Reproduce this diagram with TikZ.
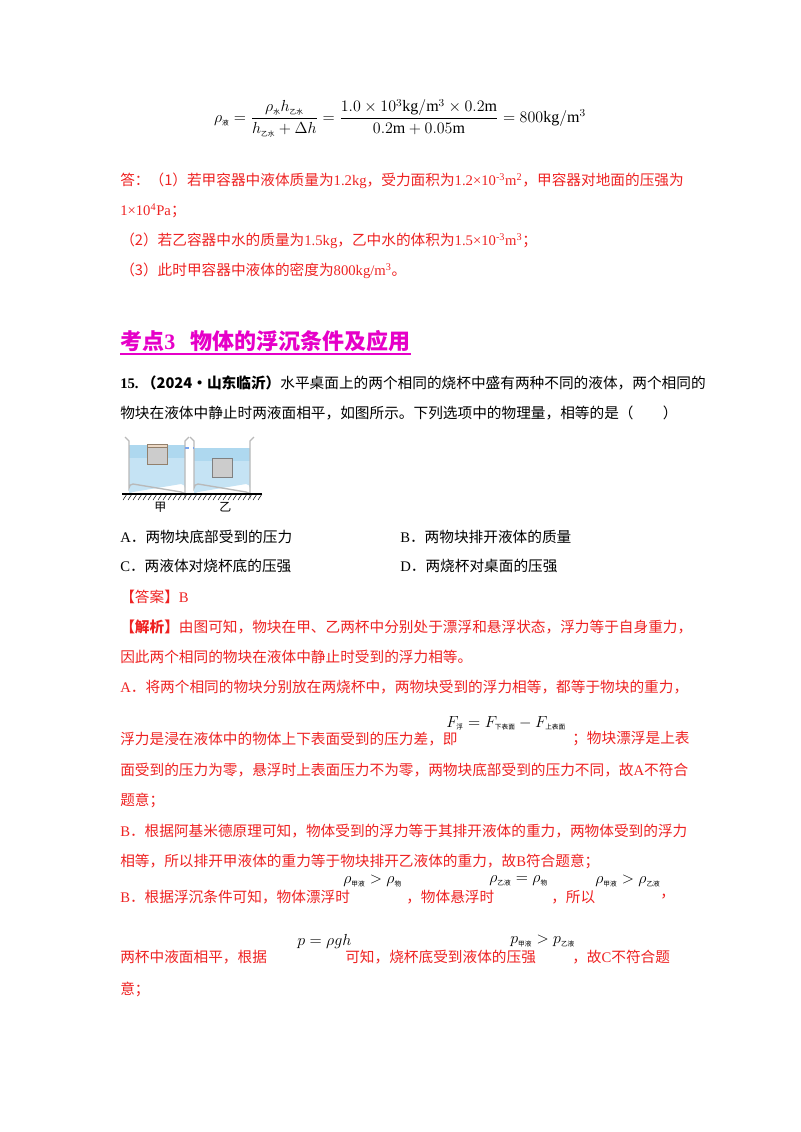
\documentclass[tikz,border=0pt]{standalone}
\usepackage{amsmath}
\usepackage{fontspec}
\setmainfont{Noto Sans CJK SC}
\newfontfamily\tms{Liberation Serif}
\setmathrm{Liberation Serif}
\definecolor{ansred}{RGB}{238,34,34}
\definecolor{headmag}{RGB}{230,0,200}
\definecolor{water}{RGB}{150,205,235}
\newcommand{\zs}[1]{\text{\tiny #1}}
\begin{document}
\begin{tikzpicture}[x=0.75pt,y=-0.75pt,
  txt/.style={anchor=west,inner sep=0pt,font=\fontsize{11}{13}\selectfont},
  red/.style={txt,text=ansred},
  blk/.style={txt,text=black},
  mth/.style={blk,font=\fontsize{11.5}{13}\selectfont}]
\useasboundingbox (0,0) rectangle (800,1132);
\node[blk,anchor=center,font=\fontsize{12}{14}\selectfont] (f1) at (400,118) {$\rho_{\zs{液}}=\dfrac{\rho_{\zs{水}}h_{\zs{乙水}}}{h_{\zs{乙水}}+\Delta h}=\dfrac{1.0\times10^{3}\mathrm{kg}/\mathrm{m}^{3}\times0.2\mathrm{m}}{0.2\mathrm{m}+0.05\mathrm{m}}=800\mathrm{kg}/\mathrm{m}^{3}$};
\node[red] (a1) at (120,181) {答：（1）若甲容器中液体质量为{\tms 1.2kg}，受力面积为{\tms 1.2×10\textsuperscript{-3}m\textsuperscript{2}}，甲容器对地面的压强为};
\node[red] (a2) at (120,211) {{\tms 1×10\textsuperscript{4}Pa}；};
\node[red] (a3) at (120,241) {（2）若乙容器中水的质量为{\tms 1.5kg}，乙中水的体积为{\tms 1.5×10\textsuperscript{-3}m\textsuperscript{3}}；};
\node[red] (a4) at (120,271) {（3）此时甲容器中液体的密度为{\tms 800kg/m\textsuperscript{3}}。};
\node[txt,text=headmag,font=\fontsize{16.5}{18}\bfseries\selectfont] (h) at (120,341) {考点{\tms\bfseries 3}\ \ \ 物体的浮沉条件及应用};
\draw[headmag,line width=1.2pt] (120,354) -- (h.east|-0,354);
\node[blk] (q1) at (120,383) {{\bfseries{\tms 15.}\ （2024·山东临沂）}水平桌面上的两个相同的烧杯中盛有两种不同的液体，两个相同的};
\node[blk] (q2) at (120,413) {物块在液体中静止时两液面相平，如图所示。下列选项中的物理量，相等的是（\qquad）};
% figure
\fill[water!55] (129,445) -- (185,445) -- (185,488) arc(0:-90:4) -- (133,492) arc(270:180:4) -- cycle;
\fill[water!55] (194,448) -- (250,448) -- (250,488) arc(0:-90:4) -- (198,492) arc(270:180:4) -- cycle;
\fill[water!90,opacity=.6] (129,445) rectangle (185,458);
\fill[water!90,opacity=.6] (194,448) rectangle (250,461);
\draw[gray!55,line width=1pt] (125,437) -- (129,441) -- (129,488) arc(180:270:4) -- (181,492) arc(270:360:4) -- (185,441) -- (189,437);
\draw[gray!55,line width=1pt] (190,437) -- (194,441) -- (194,488) arc(180:270:4) -- (246,492) arc(270:360:4) -- (250,441) -- (254,437);
\draw[fill=gray!40,draw=gray!70!brown] (147,444) rectangle (167,464);
\draw[fill=brown!30,draw=gray!70!brown] (147,444) rectangle (167,447);
\draw[fill=gray!40,draw=gray] (212,458) rectangle (232,477);
\draw[dashed,water!80!blue,thick] (185,448) -- (194,448);
\draw[black,thick] (122,494) -- (262,494);
\foreach \i in {0,...,27} \draw (123+\i*5,500) -- (127+\i*5,494);
\node[blk,font=\fontsize{9}{10}\selectfont] (jia) at (154,507) {甲};
\node[blk,font=\fontsize{9}{10}\selectfont] (yi) at (219,507) {乙};
\node[blk] (oA) at (120,537) {{\tms A}．两物块底部受到的压力};
\node[blk] (oB) at (400,537) {{\tms B}．两物块排开液体的质量};
\node[blk] (oC) at (120,566) {{\tms C}．两液体对烧杯底的压强};
\node[blk] (oD) at (400,566) {{\tms D}．两烧杯对桌面的压强};
\node[red] (ans) at (120,597) {【答案】{\tms B}};
\node[red] (j1) at (120,627) {{\bfseries【解析】}由图可知，物块在甲、乙两杯中分别处于漂浮和悬浮状态，浮力等于自身重力，};
\node[red] (j2) at (120,657) {因此两个相同的物块在液体中静止时受到的浮力相等。};
\node[red] (j3) at (120,687) {{\tms A}．将两个相同的物块分别放在两烧杯中，两物块受到的浮力相等，都等于物块的重力，};
\node[red] (j4) at (120,739) {浮力是浸在液体中的物体上下表面受到的压力差，即};
\node[mth] (m1) at (446,723) {$F_{\zs{浮}}=F_{\zs{下表面}}-F_{\zs{上表面}}$};
\node[red] (j4b) at (572,739) {；物块漂浮是上表};
\node[red] (j5) at (120,770) {面受到的压力为零，悬浮时上表面压力不为零，两物块底部受到的压力不同，故{\tms A}不符合};
\node[red] (j6) at (120,800) {题意；};
\node[red] (j7) at (120,831) {{\tms B}．根据阿基米德原理可知，物体受到的浮力等于其排开液体的重力，两物体受到的浮力};
\node[red] (j8) at (120,861) {相等，所以排开甲液体的重力等于物块排开乙液体的重力，故{\tms B}符合题意；};
\node[red] (j9) at (120,897) {{\tms B}．根据浮沉条件可知，物体漂浮时};
\node[mth] (m2) at (343,881) {$\rho_{\zs{甲液}}>\rho_{\zs{物}}$};
\node[red] (j9b) at (406,897) {，物体悬浮时};
\node[mth] (m3) at (489,881) {$\rho_{\zs{乙液}}=\rho_{\zs{物}}$};
\node[red] (j9c) at (551,897) {，所以};
\node[mth] (m4) at (595,881) {$\rho_{\zs{甲液}}>\rho_{\zs{乙液}}$};
\node[red] (j9d) at (660,897) {，};
\node[red] (j10) at (120,957) {两杯中液面相平，根据};
\node[mth] (m5) at (297,941) {$p=\rho gh$};
\node[red] (j10b) at (345,957) {可知，烧杯底受到液体的压强};
\node[mth] (m6) at (510,941) {$p_{\zs{甲液}}>p_{\zs{乙液}}$};
\node[red] (j10c) at (572,957) {，故{\tms C}不符合题};
\node[red] (j11) at (120,989) {意；};
\end{tikzpicture}
\end{document}
